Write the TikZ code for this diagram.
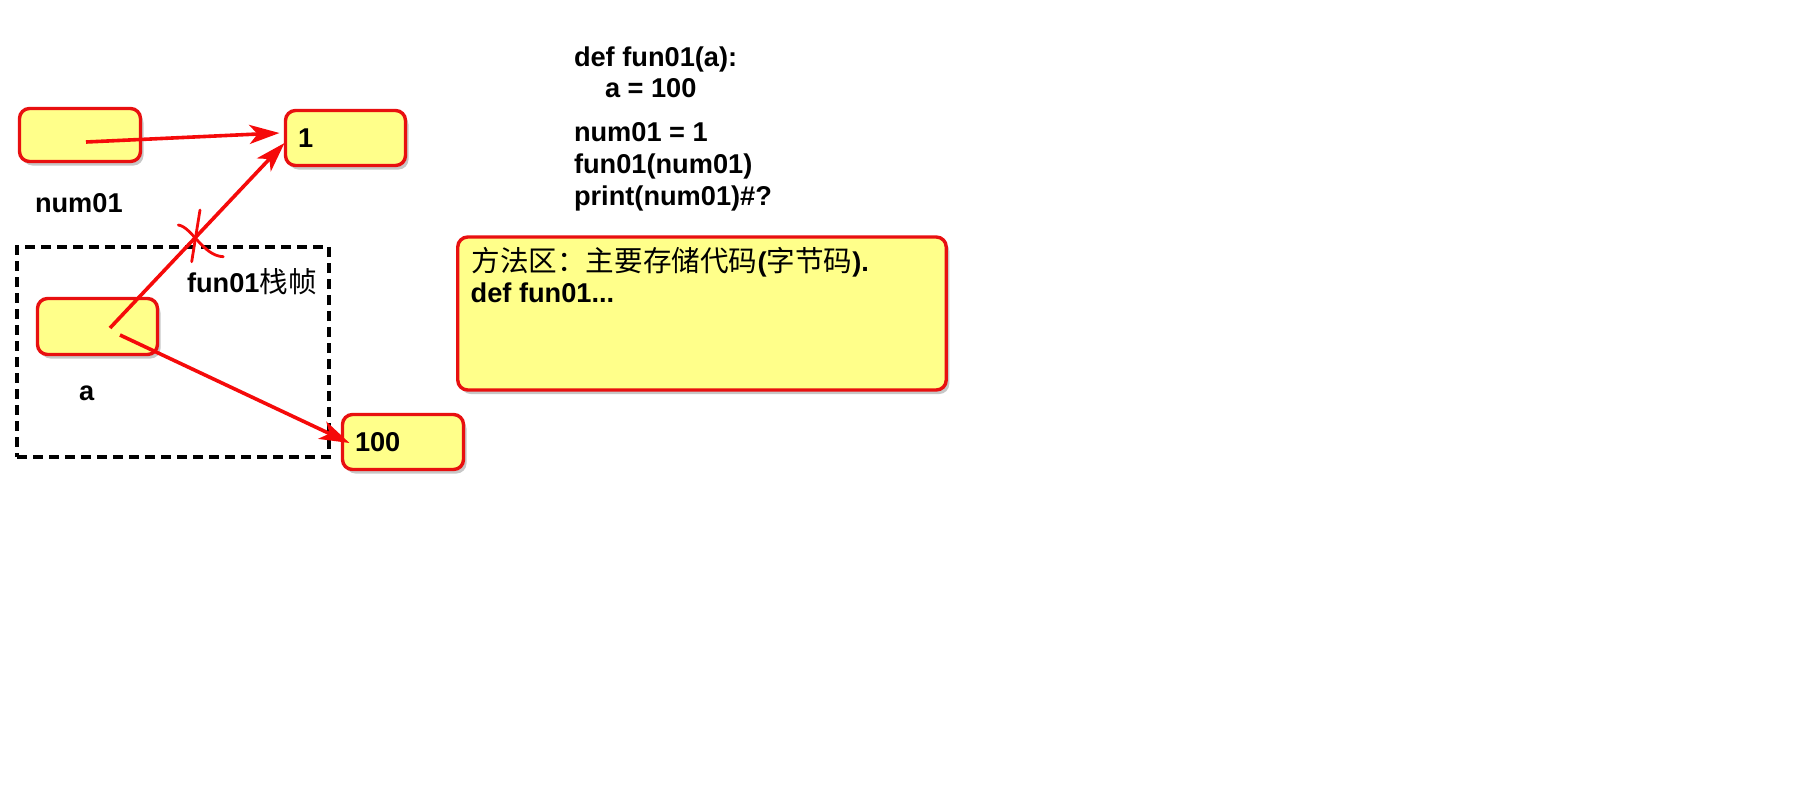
\documentclass[tikz,border=0pt]{standalone}
\usepackage{fontspec}
\setmainfont{Liberation Sans}
\newfontfamily\cjk{Noto Sans CJK SC}
\usetikzlibrary{arrows.meta,shadows}
\definecolor{boxyellow}{RGB}{255,255,138}
\definecolor{boxred}{RGB}{232,16,16}
\definecolor{arrred}{RGB}{245,10,10}
\newcommand{\cj}[1]{{\cjk\mdseries\fontsize{14.3pt}{16pt}\selectfont #1}}
\begin{document}
\begin{tikzpicture}[x=0.5pt,y=-0.5pt,
  every node/.style={font=\fontsize{13.6pt}{16pt}\selectfont\bfseries, inner sep=0pt, outer sep=0pt},
  membox/.style={draw=boxred, fill=boxyellow, line width=1.7pt, rounded corners=5pt,
    drop shadow={shadow xshift=1.5pt, shadow yshift=-2pt, fill=black, opacity=0.22}},
  valbox/.style={membox, align=left, inner xsep=6.25pt},
  txt/.style={anchor=base west},
  arr/.style={draw=arrred, line width=1.8pt, -{Stealth[length=15pt,width=9.5pt,inset=4pt]}},
  frame/.style={draw=black, line width=2pt, dash pattern=on 5pt off 3pt},
  crossline/.style={draw=arrred, line width=1.4pt, line cap=round}
]
\useasboundingbox (0,0) rectangle (1800,800);

% code text
\node[txt] (c1) at (574,66.5) {def fun01(a):};
\node[txt] (c2) at (605,97.5) {a = 100};
\node[txt] (c3) at (574,141.7) {num01 = 1};
\node[txt] (c4) at (574,173.3) {fun01(num01)};
\node[txt] (c5) at (574,205) {print(num01)\#?};

% stack frame of fun01
\node[frame, minimum width=156pt, minimum height=105pt] (fr) at (173,352) {};

% boxes
\node[membox, minimum width=60.5pt, minimum height=26.5pt] (numbox) at (80,135) {};
\node[valbox, text width=47.5pt, minimum height=27.5pt] (v1) at (345.5,138) {1};
\node[membox, minimum width=60pt, minimum height=28pt] (abox) at (97.5,326.5) {};
\node[valbox, text width=48pt, minimum height=27.5pt] (v100) at (403,442) {100};
\node[membox, minimum width=244.25pt, minimum height=76.5pt] (method) at (702,313.5) {};

% labels
\node[txt] (lnum) at (35,212.7) {num01};
\node[txt] (la) at (79,400.7) {a};
\node[txt] (lfr) at (187,292.7) {fun01\cj{栈帧}};
\node[txt] (m1) at (471.5,271.7) {\cj{方法区：主要存储代码}(\cj{字节码}).};
\node[txt] (m2) at (470.7,302.3) {def fun01...};

% connectors
\draw[arr] ([shift={(6,7)}]numbox.center) -- ([shift={(-6,-5)}]v1.west);
\draw[arr] ([shift={(12.5,1.5)}]abox.center) -- ([shift={(-1,5)}]v1.west);
\draw[arr] ([shift={(22.5,8.5)}]abox.center) -- ([shift={(7,1)}]v100.west);

% cross mark
\draw[crossline] (200,210) -- (191.7,261.7);
\draw[crossline] (178.3,225) .. controls (192,227) and (203,256) .. (223.3,256.7);
\end{tikzpicture}
\end{document}
